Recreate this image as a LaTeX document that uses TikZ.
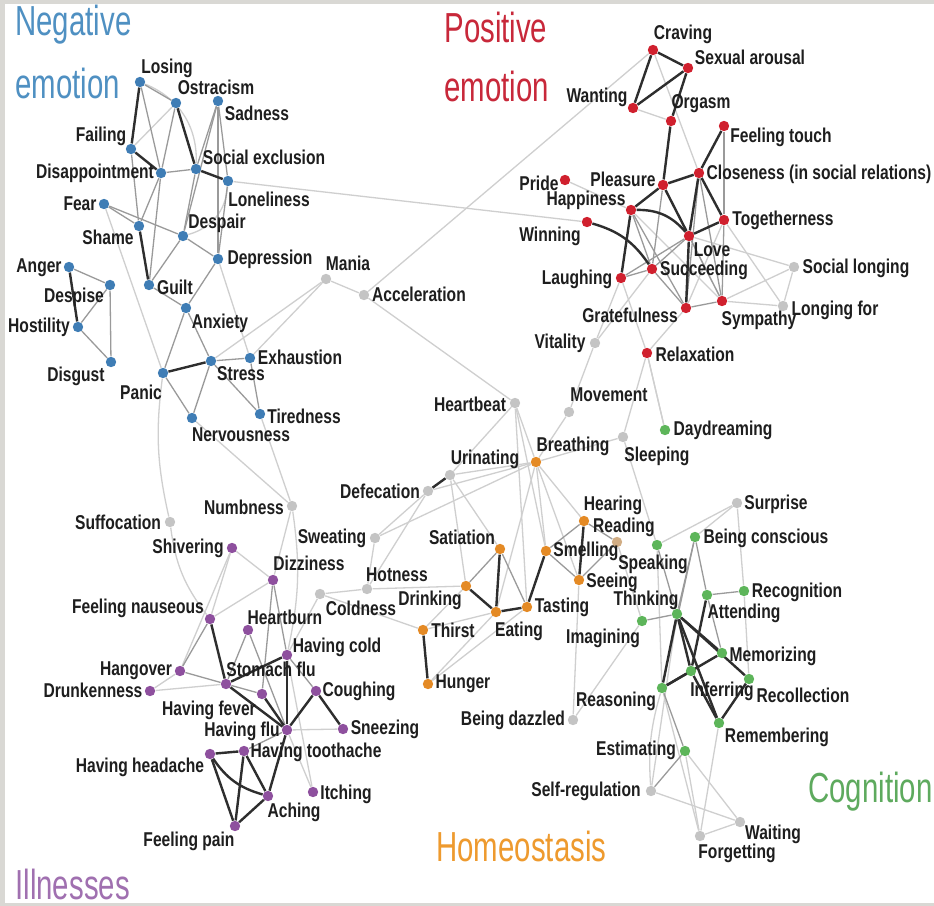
\documentclass[tikz,border=0pt]{standalone}
\usepackage{fontspec}
\setmainfont{Liberation Sans}[FakeStretch=0.78]
\newfontfamily\titlefont{Liberation Sans}[FakeStretch=0.70]
\usetikzlibrary{backgrounds}
\definecolor{blueN}{HTML}{3F7DB5}
\definecolor{redN}{HTML}{D0202E}
\definecolor{purN}{HTML}{8E509E}
\definecolor{oraN}{HTML}{E48A25}
\definecolor{greN}{HTML}{5DB55A}
\definecolor{grayN}{HTML}{C4C4C4}
\definecolor{blueT}{HTML}{4F90C2}
\definecolor{redT}{HTML}{C8283A}
\definecolor{purT}{HTML}{A070B0}
\definecolor{oraT}{HTML}{EE9A2E}
\definecolor{greT}{HTML}{5EAA5E}
\definecolor{frameG}{HTML}{D9D8D4}
\definecolor{txt}{HTML}{1E1E1E}
\definecolor{dkE}{HTML}{2E2E2E}
\definecolor{mdE}{HTML}{9A9A9A}
\definecolor{ltE}{HTML}{CFCFCF}
\tikzset{
  dot/.style={circle,inner sep=0pt,minimum size=5.2pt},
  bl/.style={dot,fill=blueN},
  rd/.style={dot,fill=redN},
  pu/.style={dot,fill=purN},
  og/.style={dot,fill=oraN},
  gr/.style={dot,fill=greN},
  gy/.style={dot,fill=grayN},
  tn/.style={dot,fill=grayN!60!oraN},
  lab/.style={inner sep=0pt,text=txt,font=\fontsize{10}{11}\selectfont\bfseries},
  ttl/.style={inner sep=0pt,anchor=west,font=\titlefont\fontsize{21}{22}\selectfont},
  dk/.style={draw=dkE,line width=1.2pt},
  md/.style={draw=mdE,line width=0.65pt},
  lt/.style={draw=ltE,line width=0.65pt}
}
\begin{document}
\begin{tikzpicture}[x=0.5pt,y=-0.5pt]
\useasboundingbox (0,0) rectangle (934,906);
\begin{scope}[on background layer]
\fill[frameG] (0,0) rectangle (934,906);
\fill[white] (5,4) rectangle (934,903);
\end{scope}
% ---------- titles
\node[ttl,text=blueT] (t1a) at (15,25) {Negative};
\node[ttl,text=blueT] (t1b) at (15,83) {emotion};
\node[ttl,text=redT] (t2a) at (444,27) {Positive};
\node[ttl,text=redT] (t2b) at (444,86) {emotion};
\node[ttl,text=purT] (t3) at (15,884) {Illnesses};
\node[ttl,text=oraT] (t4) at (436,846) {Homeostasis};
\node[ttl,text=greT] (t5) at (808,792) {Cognition};
% ---------- negative emotion
\node[bl] (los) at (140,82) {};
\node[bl] (ost) at (176,103) {};
\node[bl] (sad) at (218,101) {};
\node[bl] (fai) at (131,149) {};
\node[bl] (sex) at (196,169) {};
\node[bl] (dis) at (161,173) {};
\node[bl] (lon) at (228,181) {};
\node[bl] (fea) at (104,204) {};
\node[bl] (sha) at (139,226) {};
\node[bl] (dsp) at (183,236) {};
\node[bl] (dep) at (218,259) {};
\node[bl] (gui) at (149,285) {};
\node[bl] (anx) at (186,308) {};
\node[bl] (ang) at (69,267) {};
\node[bl] (dpi) at (110,285) {};
\node[bl] (hos) at (78,327) {};
\node[bl] (dsg) at (111,362) {};
\node[bl] (pan) at (163,373) {};
\node[bl] (str) at (211,361) {};
\node[bl] (exh) at (250,358) {};
\node[bl] (ner) at (192,418) {};
\node[bl] (tir) at (260,414) {};
\node[gy] (man) at (326,279) {};
\node[gy] (acc) at (364,295) {};
% ---------- positive emotion
\node[rd] (cra) at (653,50) {};
\node[rd] (sar) at (688,68) {};
\node[rd] (wan) at (633,108) {};
\node[rd] (org) at (671,121) {};
\node[rd] (fto) at (724,126) {};
\node[rd] (pri) at (565,180) {};
\node[rd] (ple) at (663,185) {};
\node[rd] (clo) at (699,173) {};
\node[rd] (hap) at (631,210) {};
\node[rd] (tog) at (724,220) {};
\node[rd] (win) at (587,222) {};
\node[rd] (lov) at (689,236) {};
\node[rd] (suc) at (652,269) {};
\node[rd] (lau) at (621,278) {};
\node[rd] (gra) at (686,308) {};
\node[rd] (sym) at (722,301) {};
\node[rd] (rel) at (647,353) {};
\node[gy] (slo) at (794,267) {};
\node[gy] (lfo) at (783,306) {};
\node[gy] (vit) at (595,343) {};
% ---------- middle / homeostasis / cognition
\node[gy] (hbt) at (515,403) {};
\node[gy] (mov) at (569,412) {};
\node[gy] (sle) at (623,437) {};
\node[gy] (uri) at (450,475) {};
\node[gy] (def) at (428,491) {};
\node[gy] (suf) at (170,522) {};
\node[gy] (num) at (292,506) {};
\node[gy] (swe) at (375,538) {};
\node[gy] (hot) at (367,589) {};
\node[gy] (col) at (320,594) {};
\node[gy] (bdz) at (573,720) {};
\node[gy] (slf) at (651,791) {};
\node[gy] (wai) at (740,822) {};
\node[gy] (fgt) at (700,836) {};
\node[gy] (sur) at (737,503) {};
\node[tn] (rea) at (617,542) {};
\node[og] (bre) at (536,462) {};
\node[og] (sat) at (500,549) {};
\node[og] (hea) at (584,521) {};
\node[og] (sme) at (546,551) {};
\node[og] (see) at (579,580) {};
\node[og] (dri) at (466,586) {};
\node[og] (tas) at (527,607) {};
\node[og] (eat) at (496,612) {};
\node[og] (thi) at (423,630) {};
\node[og] (hun) at (428,684) {};
\node[gr] (day) at (665,430) {};
\node[gr] (spk) at (657,545) {};
\node[gr] (bco) at (695,537) {};
\node[gr] (thk) at (677,614) {};
\node[gr] (att) at (707,595) {};
\node[gr] (rec) at (744,591) {};
\node[gr] (ima) at (642,621) {};
\node[gr] (mem) at (722,653) {};
\node[gr] (inf) at (691,671) {};
\node[gr] (rcl) at (749,679) {};
\node[gr] (rsn) at (662,688) {};
\node[gr] (rem) at (719,723) {};
\node[gr] (est) at (685,751) {};
% ---------- illnesses
\node[pu] (shi) at (232,548) {};
\node[pu] (diz) at (273,580) {};
\node[pu] (fna) at (210,619) {};
\node[pu] (hbu) at (248,630) {};
\node[pu] (hco) at (287,655) {};
\node[pu] (hgo) at (180,671) {};
\node[pu] (stf) at (226,684) {};
\node[pu] (dru) at (150,691) {};
\node[pu] (hfe) at (262,694) {};
\node[pu] (cou) at (316,691) {};
\node[pu] (hfl) at (287,730) {};
\node[pu] (sne) at (343,729) {};
\node[pu] (hto) at (244,751) {};
\node[pu] (hhe) at (210,754) {};
\node[pu] (ach) at (268,796) {};
\node[pu] (itc) at (313,792) {};
\node[pu] (fpa) at (235,826) {};
% ---------- edges
\begin{scope}[on background layer]
% light
\foreach \a/\b in {ost/fai,fea/pan,lon/win,dep/exh,str/man,exh/man,man/acc,acc/hbt,acc/cra,tir/num,ner/num,
  pri/hap,lau/vit,vit/mov,mov/bre,hbt/bre,hbt/uri,hbt/tas,hbt/sme,bre/sle,sle/rel,rel/day,sle/spk,
  bre/uri,bre/def,def/swe,uri/sat,uri/dri,bre/hea,bre/sme,bre/eat,bre/see,swe/bre,swe/hot,hot/col,col/hco,hot/dri,
  col/thi,thi/eat,hun/eat,hun/tas,thi/dri,def/hot,
  sur/spk,sur/bco,sur/rec,rec/rcl,ima/rea,bdz/see,bdz/ima,slf/thk,est/fgt,est/wai,slf/wai,fgt/wai,fgt/rem,rsn/fgt,spk/rsn,
  shi/hgo,shi/diz,shi/fna,dru/hgo,dru/stf,fna/diz,num/diz,hfl/sne,itc/hco,itc/hfl,lau/rel,gra/rel,suc/vit,
  cra/clo,wan/org,tog/lfo,sym/lfo,lov/slo,sym/slo,slo/lfo,day/rel,tog/gra,ple/sym,hap/sym}
  \draw[lt] (\a) -- (\b);
\draw[lt] (pan) to[bend right=10] (suf);
\draw[lt] (suf) to[bend right=15] (fna);
\draw[lt] (lon) to[bend left=35] (dsp);
\draw[lt] (los) to[bend left=35] (sex);
\draw[lt] (num) to[bend left=10] (hco);
\draw[lt] (slf) to[bend left=10] (rsn);
% medium
\foreach \a/\b in {los/ost,los/dis,dis/sex,ost/dis,sex/dsp,dsp/dep,dsp/gui,sad/dsp,sad/sex,sad/lon,sad/dep,lon/dep,
  fai/sha,dis/sha,dis/gui,fea/sha,fea/dsp,gui/anx,dep/anx,anx/pan,anx/str,str/exh,exh/tir,str/ner,pan/ner,str/tir,
  ang/dpi,dpi/dsg,hos/dsg,dpi/hos,
  hap/suc,hap/gra,ple/suc,clo/gra,clo/sym,tog/sym,lov/suc,lau/lov,lau/suc,suc/gra,gra/sym,lov/sym,fto/tog,
  sat/dri,sat/tas,sme/hea,sme/see,hea/rea,rea/see,
  spk/thk,bco/att,bco/thk,bco/rsn,ima/thk,rsn/est,est/slf,att/mem,rec/att,inf/mem,
  hbu/stf,hbu/hfl,diz/hfe,diz/hco,hco/cou,hgo/stf,hgo/fna,hfl/hto,stf/hfe}
  \draw[md] (\a) -- (\b);
% dark
\foreach \a/\b in {los/fai,fai/dis,ost/sex,sex/lon,sha/gui,ang/hos,pan/str,
  cra/sar,cra/wan,wan/sar,sar/org,org/ple,ple/clo,ple/hap,clo/fto,clo/tog,clo/lov,ple/lov,lov/tog,hap/lau,lov/gra,
  uri/def,sat/eat,dri/eat,eat/tas,tas/sme,hea/see,thi/hun,
  thk/rsn,thk/inf,thk/mem,thk/rcl,thk/rem,att/inf,mem/rsn,rsn/inf,rcl/rem,inf/rem,
  fna/stf,stf/hfl,hco/hfl,hfe/hfl,cou/hfl,cou/sne,stf/hco,hhe/hto,hhe/fpa,hto/ach,hto/fpa,ach/fpa,hfl/ach}
  \draw[dk] (\a) -- (\b);
\draw[dk] (hap) to[bend left=25] (lov);
\draw[dk] (win) to[bend left=20] (suc);
\draw[dk] (hhe) to[bend right=20] (ach);
\end{scope}
% ---------- labels
\node[lab] (l-los) at (167,68) {Losing};
\node[lab] (l-ost) at (216,87) {Ostracism};
\node[lab] (l-sad) at (257,113) {Sadness};
\node[lab] (l-fai) at (101,136) {Failing};
\node[lab] (l-sex) at (264,157) {Social exclusion};
\node[lab] (l-dis) at (95,173) {Disappointment};
\node[lab] (l-lon) at (269,199) {Loneliness};
\node[lab] (l-fea) at (80,204) {Fear};
\node[lab] (l-sha) at (108,237) {Shame};
\node[lab] (l-dsp) at (217,223) {Despair};
\node[lab] (l-dep) at (270,259) {Depression};
\node[lab] (l-gui) at (175,287) {Guilt};
\node[lab] (l-anx) at (220,323) {Anxiety};
\node[lab] (l-ang) at (39,268) {Anger};
\node[lab] (l-dpi) at (74,297) {Despise};
\node[lab] (l-hos) at (39,327) {Hostility};
\node[lab] (l-dsg) at (76,376) {Disgust};
\node[lab] (l-pan) at (141,392) {Panic};
\node[lab] (l-str) at (241,374) {Stress};
\node[lab] (l-exh) at (300,357) {Exhaustion};
\node[lab] (l-ner) at (241,435) {Nervousness};
\node[lab] (l-tir) at (304,416) {Tiredness};
\node[lab] (l-man) at (348,263) {Mania};
\node[lab] (l-acc) at (419,294) {Acceleration};
\node[lab] (l-cra) at (683,34) {Craving};
\node[lab] (l-sar) at (750,57) {Sexual arousal};
\node[lab] (l-wan) at (597,97) {Wanting};
\node[lab] (l-org) at (701,104) {Orgasm};
\node[lab] (l-fto) at (781,137) {Feeling touch};
\node[lab] (l-pri) at (539,183) {Pride};
\node[lab] (l-ple) at (623,179) {Pleasure};
\node[lab] (l-clo) at (819,174) {Closeness (in social relations)};
\node[lab] (l-hap) at (586,200) {Happiness};
\node[lab] (l-tog) at (783,220) {Togetherness};
\node[lab] (l-win) at (550,236) {Winning};
\node[lab] (l-lov) at (712,250) {Love};
\node[lab] (l-suc) at (704,270) {Succeeding};
\node[lab] (l-lau) at (577,279) {Laughing};
\node[lab] (l-gra) at (630,315) {Gratefulness};
\node[lab] (l-sym) at (759,320) {Sympathy};
\node[lab] (l-slo) at (856,268) {Social longing};
\node[lab] (l-lfo) at (835,310) {Longing for};
\node[lab] (l-vit) at (560,343) {Vitality};
\node[lab] (l-rel) at (695,354) {Relaxation};
\node[lab] (l-hbt) at (470,404) {Heartbeat};
\node[lab] (l-mov) at (609,395) {Movement};
\node[lab] (l-bre) at (573,446) {Breathing};
\node[lab] (l-sle) at (657,456) {Sleeping};
\node[lab] (l-day) at (723,430) {Daydreaming};
\node[lab] (l-uri) at (485,459) {Urinating};
\node[lab] (l-def) at (380,491) {Defecation};
\node[lab] (l-suf) at (118,522) {Suffocation};
\node[lab] (l-num) at (244,507) {Numbness};
\node[lab] (l-swe) at (332,538) {Sweating};
\node[lab] (l-shi) at (188,548) {Shivering};
\node[lab] (l-diz) at (309,563) {Dizziness};
\node[lab] (l-hot) at (397,575) {Hotness};
\node[lab] (l-col) at (361,608) {Coldness};
\node[lab] (l-sat) at (462,537) {Satiation};
\node[lab] (l-hea) at (613,505) {Hearing};
\node[lab] (l-rea) at (624,527) {Reading};
\node[lab] (l-sme) at (586,551) {Smelling};
\node[lab] (l-see) at (612,582) {Seeing};
\node[lab] (l-spk) at (653,564) {Speaking};
\node[lab] (l-bco) at (766,538) {Being conscious};
\node[lab] (l-sur) at (776,504) {Surprise};
\node[lab] (l-thk) at (646,600) {Thinking};
\node[lab] (l-att) at (744,613) {Attending};
\node[lab] (l-rec) at (797,592) {Recognition};
\node[lab] (l-dri) at (430,600) {Drinking};
\node[lab] (l-tas) at (562,607) {Tasting};
\node[lab] (l-eat) at (519,631) {Eating};
\node[lab] (l-thi) at (453,630) {Thirst};
\node[lab] (l-hun) at (463,684) {Hunger};
\node[lab] (l-ima) at (603,638) {Imagining};
\node[lab] (l-mem) at (773,656) {Memorizing};
\node[lab] (l-inf) at (722,691) {Inferring};
\node[lab] (l-rcl) at (803,695) {Recollection};
\node[lab] (l-rsn) at (616,701) {Reasoning};
\node[lab] (l-bdz) at (513,720) {Being dazzled};
\node[lab] (l-rem) at (777,737) {Remembering};
\node[lab] (l-est) at (636,750) {Estimating};
\node[lab] (l-slf) at (586,791) {Self-regulation};
\node[lab] (l-wai) at (773,834) {Waiting};
\node[lab] (l-fgt) at (737,853) {Forgetting};
\node[lab] (l-fna) at (138,608) {Feeling nauseous};
\node[lab] (l-hbu) at (285,617) {Heartburn};
\node[lab] (l-hco) at (337,647) {Having cold};
\node[lab] (l-hgo) at (136,671) {Hangover};
\node[lab] (l-stf) at (271,669) {Stomach flu};
\node[lab] (l-dru) at (93,690) {Drunkenness};
\node[lab] (l-hfe) at (209,710) {Having fever};
\node[lab] (l-cou) at (359,691) {Coughing};
\node[lab] (l-hfl) at (242,731) {Having flu};
\node[lab] (l-sne) at (385,729) {Sneezing};
\node[lab] (l-hto) at (316,752) {Having toothache};
\node[lab] (l-hhe) at (140,767) {Having headache};
\node[lab] (l-ach) at (294,812) {Aching};
\node[lab] (l-itc) at (346,794) {Itching};
\node[lab] (l-fpa) at (189,841) {Feeling pain};
\end{tikzpicture}
\end{document}
